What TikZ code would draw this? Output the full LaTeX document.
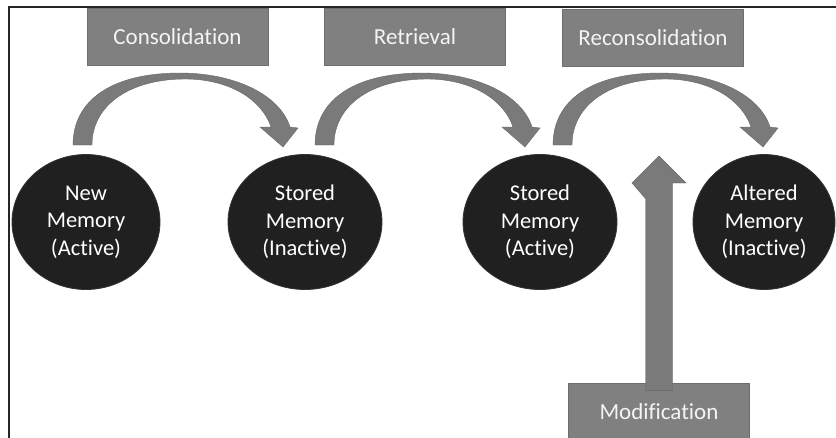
\documentclass[tikz,border=0pt]{standalone}
\usepackage{fontspec}
\setmainfont{Carlito}[Ligatures={NoCommon,NoRare}, RawFeature={-calt}]
\usetikzlibrary{shapes.geometric}
\definecolor{boxgray}{HTML}{808080}
\definecolor{boxedge}{HTML}{6E6E6E}
\definecolor{arrowgray}{HTML}{7A7A7A}
\definecolor{memfill}{HTML}{202020}
\definecolor{boxtext}{HTML}{F4F4F4}
\tikzset{
  membox/.style={ellipse, fill=memfill, draw=memfill!80!gray, line width=0.8pt, inner sep=0pt,
    minimum height=135, text=white, align=center,
    font=\fontsize{22.5}{27.5}\selectfont},
  procbox/.style={rectangle, fill=boxgray, draw=boxedge, line width=0.8pt, inner sep=0pt,
    minimum width=181, minimum height=57, text=boxtext,
    font=\fontsize{23}{27}\selectfont},
  arrowbody/.style={fill=arrowgray, draw=arrowgray!85!black, line width=0.4pt},
  framestyle/.style={line width=2pt, draw=black!85}
}
\begin{document}
\begin{tikzpicture}[x=1pt, y=-1pt]
\useasboundingbox (0,0) rectangle (836,437);
% frame
\draw[framestyle] (9,440) -- (9,7) -- (840,7);
% process boxes
\node[procbox] (cons) at (177.5,36.5) {Consolidation};
\node[procbox] (retr) at (415,37) {Retrieval};
\node[procbox] (recons) at (653,37.5) {Reconsolidation};
\node[procbox] (mod) at (659,411.5) {Modification};
% memory states
\node[membox, minimum width=148] (new) at (86,222) {New\\Memory\\(Active)};
\node[membox, minimum width=154] (stored1) at (305,222) {Stored\\Memory\\(Inactive)};
\node[membox, minimum width=154] (stored2) at (540,222) {Stored\\Memory\\(Active)};
\node[membox, minimum width=142] (altered) at (764,222) {Altered\\Memory\\(Inactive)};
% curved arrows
\foreach \dx in {0,242,480}{
  \begin{scope}[xshift=\dx]
  \path[arrowbody] (73,145) .. controls (73,100) and (112,73) .. (180,73)
     .. controls (235,73) and (280,95) .. (290,127)
     -- (298,128) -- (283,147) -- (260,127) -- (271,127)
     .. controls (262,100) and (230,79) .. (185,79)
     .. controls (130,79) and (92,105) .. (92,145) -- cycle;
  \end{scope}
}
% modification arrow
\coordinate (modtop) at ([yshift=-8]mod.north);
\path[arrowbody] ([xshift=-13.5]modtop) -- ++(0,-192) -- (632,183) -- (659,156) -- (686,183)
   -- (672.5,183) -- ([xshift=13.5]modtop) -- cycle;
\end{tikzpicture}
\end{document}
